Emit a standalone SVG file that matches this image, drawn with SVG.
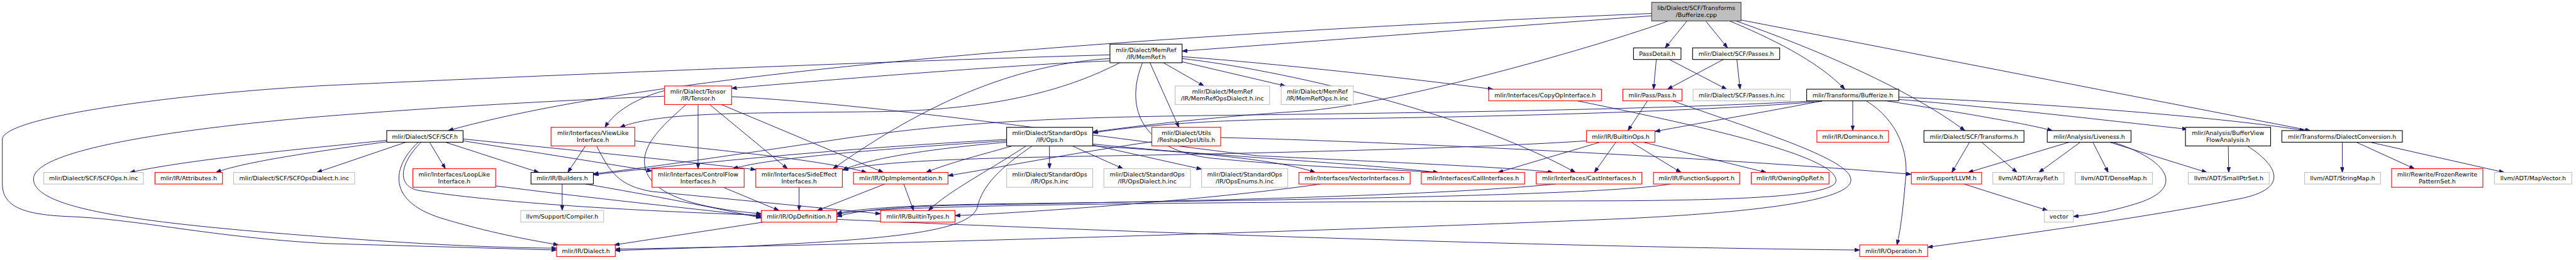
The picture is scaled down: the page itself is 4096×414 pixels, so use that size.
<svg xmlns="http://www.w3.org/2000/svg" width="4096" height="414" viewBox="0 0 4096 414">
<style>
.n rect{fill:#fff;stroke-width:1.5}
.r rect{stroke:#ff0000}
.k rect{stroke:#000}
.g rect{stroke:#bfbfbf}
text{font-family:"DejaVu Sans","Liberation Sans",sans-serif;font-size:12.8px;text-anchor:middle;fill:#000}
.e path{fill:none;stroke:#191970;stroke-width:1.3;marker-end:url(#a)}
</style>
<defs>
<marker id="a" markerUnits="userSpaceOnUse" viewBox="0 0 11 8" refX="11" refY="4" markerWidth="11" markerHeight="8" orient="auto"><path d="M0,0 L11,4 L0,8 z" fill="#191970" stroke="#191970" stroke-width="1"/></marker>
</defs>
<rect x="0" y="0" width="4096" height="414" fill="#fff"/>
<g transform="scale(0.74)">
<g id="edges" class="e">
<path d="M3625,45 L3578,103"/>
<path d="M3665,45 L3712,103"/>
<path d="M3716,45 C3800,80 3905,130 3964,192"/>
<path d="M3730,45 C3900,105 4100,190 4222,281"/>
<path d="M3741,43 L4964,281"/>
<path d="M3549,34 L2540,110"/>
<path d="M3549,29 C2800,60 1500,130 963,281"/>
<path d="M3585,45 C3450,95 3000,225 2800,239 C2600,252 2450,270 2348,284"/>
<path d="M3559,128 L3553,192"/>
<path d="M3587,128 L3710,192"/>
<path d="M3703,128 L3583,192"/>
<path d="M3732,128 L3739,192"/>
<path d="M2385,131 C2200,138 1800,170 1572,190"/>
<path d="M2471,135 L2533,274"/>
<path d="M2500,135 L2587,185"/>
<path d="M2540,133 L2762,185"/>
<path d="M2540,122 C2700,133 3000,165 3208,192"/>
<path d="M2540,126 C2750,150 3150,240 3385,371"/>
<path d="M2455,135 C2420,220 2440,320 2600,340 C2800,360 3000,365 3090,371"/>
<path d="M2406,135 C2300,190 2150,235 1900,240 C1600,244 1420,240 1332,274"/>
<path d="M2385,118 C1800,135 1000,170 700,184 C400,200 5,250 5,300 L5,395 C5,445 50,462 150,466 C300,472 450,510 700,524 L1196,538"/>
<path d="M2385,126 C2150,140 1950,250 1790,363"/>
<path d="M1428,207 C1100,220 850,238 700,250 C400,275 72,320 72,385 C72,450 300,480 700,510 C900,525 1050,533 1196,534"/>
<path d="M1428,195 C1370,210 1320,240 1300,274"/>
<path d="M1500,225 L1500,363"/>
<path d="M1525,225 L1692,363"/>
<path d="M1550,225 L1898,371"/>
<path d="M1572,208 C1900,225 2400,300 2700,335 C3000,350 3250,360 3337,371"/>
<path d="M1474,225 C1430,265 1390,300 1385,340 C1378,420 1500,448 1636,460"/>
<path d="M831,302 C600,325 400,345 279,371"/>
<path d="M831,305 C650,330 520,350 464,371"/>
<path d="M872,306 L681,371"/>
<path d="M899,306 C850,350 820,430 950,470 C1050,500 1130,515 1200,527"/>
<path d="M905,306 C860,350 850,400 900,410 C1100,440 1400,455 1636,463"/>
<path d="M923,306 L957,363"/>
<path d="M957,306 L1158,371"/>
<path d="M995,303 L1401,368"/>
<path d="M995,299 C1200,320 1450,345 1624,365"/>
<path d="M1065,400 C1300,430 1500,450 1636,466"/>
<path d="M1258,314 L1220,371"/>
<path d="M1364,303 C1500,320 1750,340 1862,371"/>
<path d="M1282,314 C1310,370 1330,400 1400,412 L1892,460"/>
<path d="M1208,396 L1208,453"/>
<path d="M1258,396 C1400,420 1550,450 1636,469"/>
<path d="M1554,403 L1674,453"/>
<path d="M1717,403 L1717,453"/>
<path d="M1901,396 L1756,453"/>
<path d="M1942,396 L1963,453"/>
<path d="M1640,478 L1320,527"/>
<path d="M1798,472 C2200,490 3200,530 3996,538"/>
<path d="M2255,314 L2255,363"/>
<path d="M2304,314 L2413,363"/>
<path d="M2348,312 L2582,364"/>
<path d="M2218,314 C2150,360 2110,400 2100,446 C2085,500 1900,515 1600,530 L1322,539"/>
<path d="M2205,314 C2120,370 2040,410 1995,453"/>
<path d="M2175,314 C2120,330 2040,350 1990,371"/>
<path d="M2163,300 C1800,320 1500,350 1275,376"/>
<path d="M2163,303 C1900,320 1650,340 1575,363"/>
<path d="M2163,306 C2000,320 1870,340 1810,366"/>
<path d="M2348,314 C2600,330 2750,345 2826,371"/>
<path d="M2348,310 C2600,335 2900,350 3090,371"/>
<path d="M2475,305 C2300,330 2150,360 2037,378"/>
<path d="M2623,296 C3000,305 3700,340 4107,375"/>
<path d="M3389,217 C3700,280 3950,340 3945,390 C3940,425 3700,430 3500,432 C2800,434 1850,438 1798,462"/>
<path d="M3594,217 C3800,290 4000,350 3975,395 C3950,440 3700,460 3500,470 C2800,500 1700,530 1322,536"/>
<path d="M3540,217 L3498,281"/>
<path d="M3438,306 L3219,371"/>
<path d="M3472,306 L3426,371"/>
<path d="M3505,306 L3612,371"/>
<path d="M3531,306 L3795,371"/>
<path d="M3409,303 C3200,318 2700,330 2400,335 C2100,340 1900,345 1812,366"/>
<path d="M3981,217 L3981,281"/>
<path d="M4010,217 C4080,260 4100,330 4095,380 C4090,440 4085,490 4076,527"/>
<path d="M3915,217 C3800,240 3650,265 3556,283"/>
<path d="M3915,218 C3600,245 3000,255 2800,256 C2600,258 2450,270 2348,286"/>
<path d="M3900,217 C3500,240 2800,245 2500,250 C2200,255 2000,270 1800,300 C1600,330 1400,360 1275,374"/>
<path d="M4053,217 C4200,240 4350,265 4410,281"/>
<path d="M4080,214 C4300,232 4550,262 4700,278"/>
<path d="M4080,209 C4400,222 4800,255 4952,281"/>
<path d="M4232,306 L4194,371"/>
<path d="M4258,306 L4334,371"/>
<path d="M4446,306 L4229,371"/>
<path d="M4470,306 L4381,371"/>
<path d="M4497,306 L4530,371"/>
<path d="M4533,306 L4742,371"/>
<path d="M4540,306 C4650,340 4700,400 4600,435 C4540,455 4490,462 4455,466"/>
<path d="M4788,314 L4789,371"/>
<path d="M4829,314 C4900,360 4920,410 4800,430 C4600,470 4300,510 4142,532"/>
<path d="M4220,396 L4400,453"/>
<path d="M5033,306 L5033,371"/>
<path d="M5063,306 L5188,363"/>
<path d="M5093,306 L5381,371"/>
<path d="M3590,396 C3450,420 2800,430 2200,438 C2000,440 1860,446 1798,459"/>
<path d="M3343,396 C3100,420 2600,432 2150,440 C1980,442 1860,448 1798,466"/>
<path d="M2838,396 C2600,430 2200,458 2052,464"/>
</g>
<g id="n-cpp" class="n"><rect x="3549" y="5" width="192" height="40" style="fill:#bfbfbf;stroke:#404040"/><text x="3645" y="21.5">lib/Dialect/SCF/Transforms</text><text x="3645" y="36.7">/Bufferize.cpp</text></g>
<g id="n-memref" class="n k"><rect x="2385" y="95" width="155" height="40"/><text x="2462.5" y="111.5">mlir/Dialect/MemRef</text><text x="2462.5" y="126.7">/IR/MemRef.h</text></g>
<g id="n-passdetail" class="n k"><rect x="3510" y="103" width="102" height="25"/><text x="3561" y="120.1">PassDetail.h</text></g>
<g id="n-scfpasses" class="n k"><rect x="3637" y="103" width="187" height="25"/><text x="3730.5" y="120.1">mlir/Dialect/SCF/Passes.h</text></g>
<g id="n-tensor" class="n r"><rect x="1428" y="185" width="144" height="40"/><text x="1500" y="201.5">mlir/Dialect/Tensor</text><text x="1500" y="216.7">/IR/Tensor.h</text></g>
<g id="n-memrefdialectinc" class="n g"><rect x="2525" y="185" width="203" height="40"/><text x="2626.5" y="201.5">mlir/Dialect/MemRef</text><text x="2626.5" y="216.7">/IR/MemRefOpsDialect.h.inc</text></g>
<g id="n-memrefopsinc" class="n g"><rect x="2753" y="185" width="155" height="40"/><text x="2830.5" y="201.5">mlir/Dialect/MemRef</text><text x="2830.5" y="216.7">/IR/MemRefOps.h.inc</text></g>
<g id="n-copyop" class="n r"><rect x="3199" y="192" width="242" height="25"/><text x="3320" y="209.1">mlir/Interfaces/CopyOpInterface.h</text></g>
<g id="n-pass" class="n r"><rect x="3487" y="192" width="127" height="25"/><text x="3550.5" y="209.1">mlir/Pass/Pass.h</text></g>
<g id="n-passesinc" class="n g"><rect x="3638" y="192" width="209" height="25"/><text x="3742.5" y="209.1">mlir/Dialect/SCF/Passes.h.inc</text></g>
<g id="n-bufferizeh" class="n k"><rect x="3882" y="192" width="198" height="25"/><text x="3981" y="209.1">mlir/Transforms/Bufferize.h</text></g>
<g id="n-scfh" class="n k"><rect x="831" y="281" width="164" height="25"/><text x="913" y="298.1">mlir/Dialect/SCF/SCF.h</text></g>
<g id="n-viewlike" class="n r"><rect x="1184" y="274" width="180" height="40"/><text x="1274" y="290.5">mlir/Interfaces/ViewLike</text><text x="1274" y="305.7">Interface.h</text></g>
<g id="n-stdops" class="n k"><rect x="2163" y="274" width="185" height="40"/><text x="2255.5" y="290.5">mlir/Dialect/StandardOps</text><text x="2255.5" y="305.7">/IR/Ops.h</text></g>
<g id="n-reshape" class="n r"><rect x="2475" y="274" width="148" height="40"/><text x="2549" y="290.5">mlir/Dialect/Utils</text><text x="2549" y="305.7">/ReshapeOpsUtils.h</text></g>
<g id="n-builtinops" class="n r"><rect x="3409" y="281" width="147" height="25"/><text x="3482.5" y="298.1">mlir/IR/BuiltinOps.h</text></g>
<g id="n-dominance" class="n r"><rect x="3904" y="281" width="154" height="25"/><text x="3981" y="298.1">mlir/IR/Dominance.h</text></g>
<g id="n-scftransforms" class="n k"><rect x="4134" y="281" width="215" height="25"/><text x="4241.5" y="298.1">mlir/Dialect/SCF/Transforms.h</text></g>
<g id="n-liveness" class="n k"><rect x="4399" y="281" width="180" height="25"/><text x="4489" y="298.1">mlir/Analysis/Liveness.h</text></g>
<g id="n-bufferview" class="n k"><rect x="4696" y="274" width="183" height="40"/><text x="4787.5" y="290.5">mlir/Analysis/BufferView</text><text x="4787.5" y="305.7">FlowAnalysis.h</text></g>
<g id="n-dialectconv" class="n k"><rect x="4903" y="281" width="259" height="25"/><text x="5032.5" y="298.1">mlir/Transforms/DialectConversion.h</text></g>
<g id="n-scfopsinc" class="n g"><rect x="94" y="371" width="214" height="25"/><text x="201" y="388.1">mlir/Dialect/SCF/SCFOps.h.inc</text></g>
<g id="n-attributes" class="n r"><rect x="333" y="371" width="145" height="25"/><text x="405.5" y="388.1">mlir/IR/Attributes.h</text></g>
<g id="n-scfdialectinc" class="n g"><rect x="502" y="371" width="260" height="25"/><text x="632" y="388.1">mlir/Dialect/SCF/SCFOpsDialect.h.inc</text></g>
<g id="n-looplike" class="n r"><rect x="887" y="363" width="178" height="40"/><text x="976" y="379.5">mlir/Interfaces/LoopLike</text><text x="976" y="394.7">Interface.h</text></g>
<g id="n-builders" class="n k"><rect x="1141" y="371" width="134" height="25"/><text x="1208" y="388.1">mlir/IR/Builders.h</text></g>
<g id="n-controlflow" class="n r"><rect x="1401" y="363" width="198" height="40"/><text x="1500" y="379.5">mlir/Interfaces/ControlFlow</text><text x="1500" y="394.7">Interfaces.h</text></g>
<g id="n-sideeffect" class="n r"><rect x="1624" y="363" width="186" height="40"/><text x="1717" y="379.5">mlir/Interfaces/SideEffect</text><text x="1717" y="394.7">Interfaces.h</text></g>
<g id="n-opimpl" class="n r"><rect x="1834" y="371" width="203" height="25"/><text x="1935.5" y="388.1">mlir/IR/OpImplementation.h</text></g>
<g id="n-opsinc" class="n g"><rect x="2163" y="363" width="185" height="40"/><text x="2255.5" y="379.5">mlir/Dialect/StandardOps</text><text x="2255.5" y="394.7">/IR/Ops.h.inc</text></g>
<g id="n-opsdialectinc" class="n g"><rect x="2372" y="363" width="186" height="40"/><text x="2465" y="379.5">mlir/Dialect/StandardOps</text><text x="2465" y="394.7">/IR/OpsDialect.h.inc</text></g>
<g id="n-opsenumsinc" class="n g"><rect x="2582" y="363" width="185" height="40"/><text x="2674.5" y="379.5">mlir/Dialect/StandardOps</text><text x="2674.5" y="394.7">/IR/OpsEnums.h.inc</text></g>
<g id="n-vectorif" class="n r"><rect x="2791" y="371" width="239" height="25"/><text x="2910.5" y="388.1">mlir/Interfaces/VectorInterfaces.h</text></g>
<g id="n-callif" class="n r"><rect x="3054" y="371" width="222" height="25"/><text x="3165" y="388.1">mlir/Interfaces/CallInterfaces.h</text></g>
<g id="n-castif" class="n r"><rect x="3301" y="371" width="227" height="25"/><text x="3414.5" y="388.1">mlir/Interfaces/CastInterfaces.h</text></g>
<g id="n-funcsupport" class="n r"><rect x="3553" y="371" width="185" height="25"/><text x="3645.5" y="388.1">mlir/IR/FunctionSupport.h</text></g>
<g id="n-owning" class="n r"><rect x="3763" y="371" width="167" height="25"/><text x="3846.5" y="388.1">mlir/IR/OwningOpRef.h</text></g>
<g id="n-llvmh" class="n r"><rect x="4107" y="371" width="151" height="25"/><text x="4182.5" y="388.1">mlir/Support/LLVM.h</text></g>
<g id="n-arrayref" class="n g"><rect x="4282" y="371" width="153" height="25"/><text x="4358.5" y="388.1">llvm/ADT/ArrayRef.h</text></g>
<g id="n-densemap" class="n g"><rect x="4459" y="371" width="166" height="25"/><text x="4542" y="388.1">llvm/ADT/DenseMap.h</text></g>
<g id="n-smallptr" class="n g"><rect x="4702" y="371" width="174" height="25"/><text x="4789" y="388.1">llvm/ADT/SmallPtrSet.h</text></g>
<g id="n-stringmap" class="n g"><rect x="4952" y="371" width="163" height="25"/><text x="5033.5" y="388.1">llvm/ADT/StringMap.h</text></g>
<g id="n-frozen" class="n r"><rect x="5139" y="363" width="196" height="40"/><text x="5237" y="379.5">mlir/Rewrite/FrozenRewrite</text><text x="5237" y="394.7">PatternSet.h</text></g>
<g id="n-mapvector" class="n g"><rect x="5360" y="371" width="166" height="25"/><text x="5443" y="388.1">llvm/ADT/MapVector.h</text></g>
<g id="n-compiler" class="n g"><rect x="1119" y="453" width="178" height="25"/><text x="1208" y="470.1">llvm/Support/Compiler.h</text></g>
<g id="n-opdef" class="n r"><rect x="1636" y="453" width="162" height="25"/><text x="1717" y="470.1">mlir/IR/OpDefinition.h</text></g>
<g id="n-builtintypes" class="n r"><rect x="1892" y="453" width="160" height="25"/><text x="1972" y="470.1">mlir/IR/BuiltinTypes.h</text></g>
<g id="n-vector" class="n g"><rect x="4393" y="453" width="62" height="25"/><text x="4424" y="470.1">vector</text></g>
<g id="n-dialect" class="n r"><rect x="1196" y="527" width="126" height="25"/><text x="1259" y="544.1">mlir/IR/Dialect.h</text></g>
<g id="n-operation" class="n r"><rect x="3996" y="527" width="146" height="25"/><text x="4069" y="544.1">mlir/IR/Operation.h</text></g>
</g>
</svg>
